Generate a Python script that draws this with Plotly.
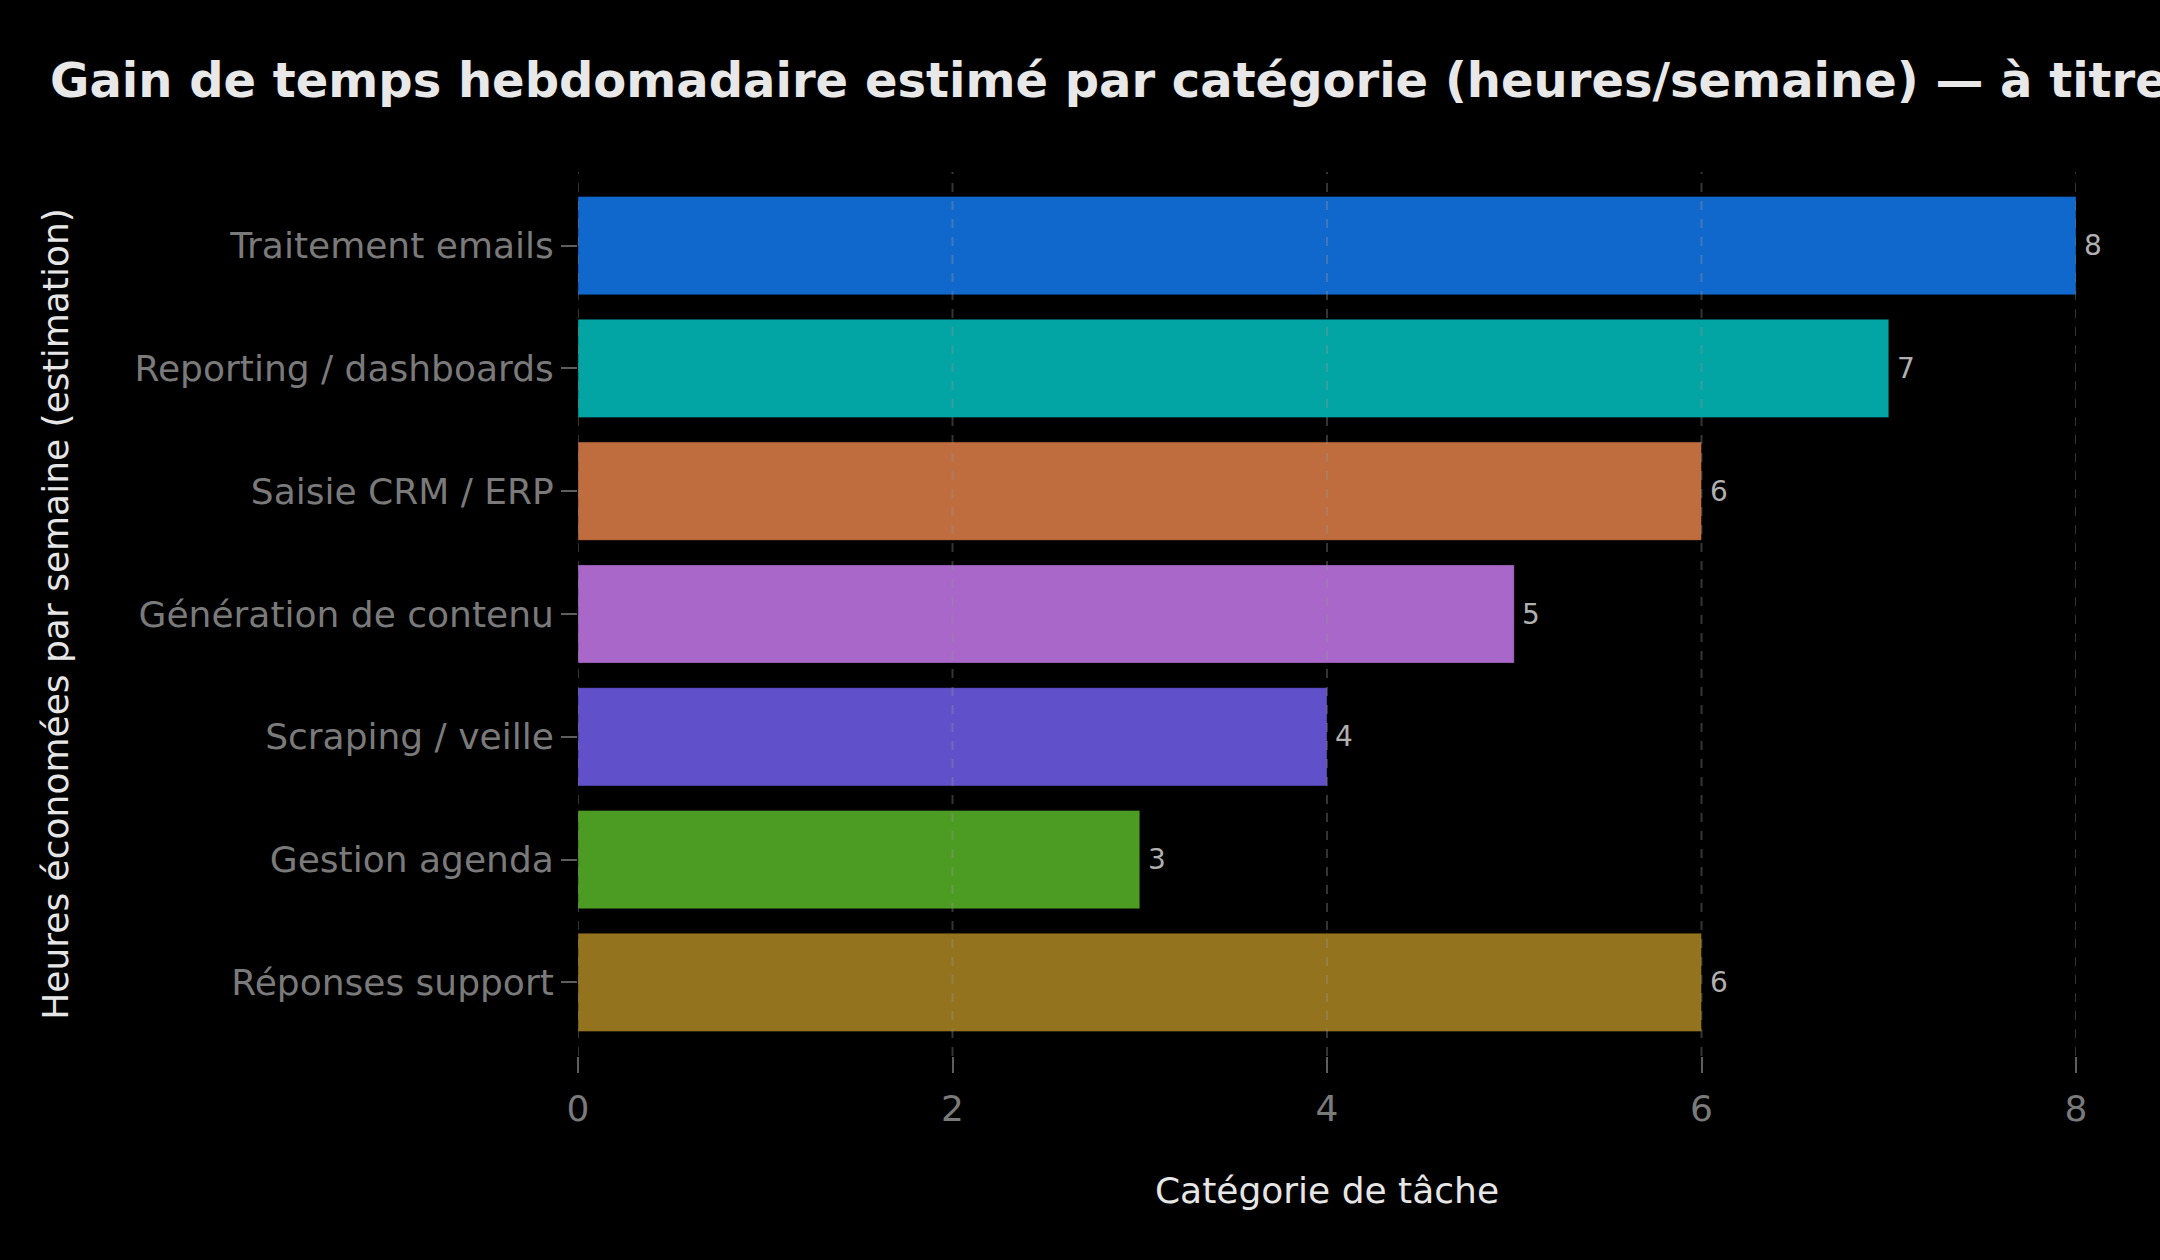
import plotly.graph_objects as go

categories = ["Traitement emails", "Reporting / dashboards", "Saisie CRM / ERP",
              "Génération de contenu", "Scraping / veille", "Gestion agenda",
              "Réponses support"]
hours = [8, 7, 6, 5, 4, 3, 6]
colors = ["#1168CC", "#02A4A4", "#BF6D3E", "#A967CA", "#6051CA", "#4C9C24", "#94731F"]
x_ticks = [0, 2, 4, 6, 8]

title_text = "Gain de temps hebdomadaire estimé par catégorie (heures/semaine) — à titre"
x_title = "Catégorie de tâche"
y_title = "Heures économées par semaine (estimation)"

FONT = "DejaVu Sans"

fig = go.Figure()
fig.add_trace(go.Bar(
    y=categories, x=hours, orientation="h",
    marker=dict(color=colors, line=dict(width=1, color="rgba(0,0,0,0.35)")),
    width=0.8, showlegend=False, hoverinfo="skip", cliponaxis=False,
))

for c, v in zip(categories, hours):
    fig.add_annotation(x=v, y=c, xref="x", yref="y", text=str(v),
                       showarrow=False, xanchor="left", yanchor="middle",
                       xshift=6, font=dict(family=FONT, size=28, color="#b0b0b0"))

# dashed vertical grid lines drawn above the bars (faint), as in the reference
for t in x_ticks:
    fig.add_shape(type="line", xref="x", yref="paper", x0=t, x1=t, y0=0, y1=1,
                  layer="above", line=dict(color="rgba(150,150,150,0.35)", width=2, dash="dash"))

fig.update_layout(
    width=2160, height=1260,
    paper_bgcolor="#000000", plot_bgcolor="#000000",
    margin=dict(l=578, r=84, t=172, b=204),
    font=dict(family=FONT, color="#e6e6e6"),
    title=dict(text="<b>" + title_text + "</b>", x=50 / 2160, xanchor="left",
               xref="container", yref="container", y=1 - 80 / 1260, yanchor="middle",
               font=dict(family=FONT, size=48, color="#e8e8e8")),
    bargap=0.2,
)

fig.update_xaxes(
    range=[0, 8], tickvals=x_ticks, ticktext=[str(t) for t in x_ticks],
    showgrid=False, zeroline=False, showline=False,
    ticks="outside", ticklen=16, tickwidth=2, tickcolor="#5e5e5e",
    ticklabelstandoff=5,
    tickfont=dict(family=FONT, size=36, color="#7a7a7a"),
    title=dict(text=x_title, font=dict(family=FONT, size=36, color="#e6e6e6"), standoff=49),
)
fig.update_yaxes(
    categoryorder="array", categoryarray=categories,
    range=[6.6, -0.6],
    showgrid=False, zeroline=False, showline=False,
    ticks="outside", ticklen=16, tickwidth=2, tickcolor="#5e5e5e",
    tickfont=dict(family=FONT, size=36, color="#7a7a7a"),
    title=dict(text=y_title, font=dict(family=FONT, size=36, color="#e6e6e6"), standoff=54),
)

fig.write_html("out.html", config={"displayModeBar": False},
               post_script="document.body.style.margin='0';document.body.style.background='#000';")
